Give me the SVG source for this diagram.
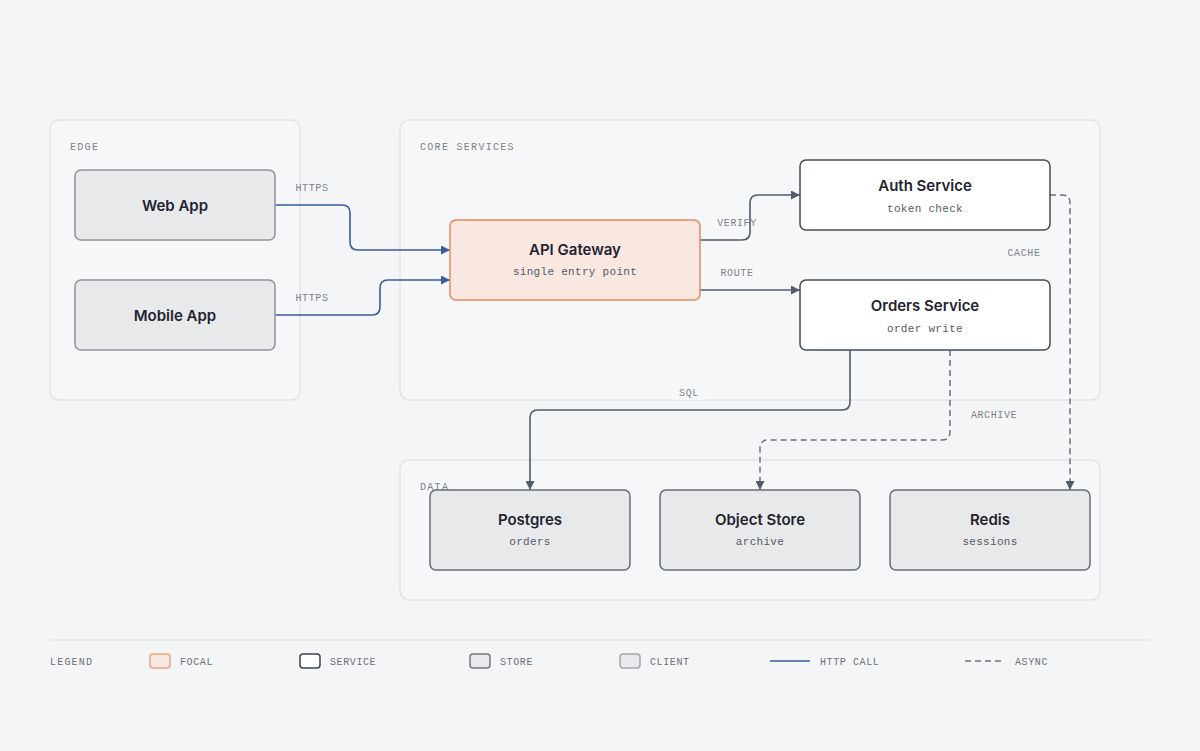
<svg xmlns="http://www.w3.org/2000/svg" width="1200" height="751" viewBox="0 0 1200 751">
<style>
.bg{fill:#f4f5f6}
.grp{fill:#f6f7f8;stroke:#e2e4e7;stroke-width:1.5}
.glabel{font-family:"Liberation Mono","DejaVu Sans Mono",monospace;font-size:10px;letter-spacing:1.3px;fill:#7b808a}
.client{fill:#e8e9eb;stroke:#8e939b;stroke-width:1.5}
.store{fill:#e8e9eb;stroke:#656c79;stroke-width:1.5}
.service{fill:#ffffff;stroke:#474c57;stroke-width:1.5}
.focal{fill:#f8e8e1;stroke:#e38a5c;stroke-width:1.5}
.title{font-family:Inter,"Liberation Sans",sans-serif;font-size:15px;font-weight:600;fill:#1f2430;text-anchor:middle}
.sub{font-family:"Liberation Mono","DejaVu Sans Mono",monospace;font-size:11px;letter-spacing:0.3px;fill:#555b66;text-anchor:middle}
.lbl{font-family:"Liberation Mono","DejaVu Sans Mono",monospace;font-size:10px;letter-spacing:0.6px;fill:#7d828c;text-anchor:middle}
.http{fill:none;stroke:#3a5ca3;stroke-width:1.6}
.call{fill:none;stroke:#535b6b;stroke-width:1.6}
.async{fill:none;stroke:#6b7280;stroke-width:1.5;stroke-dasharray:6 4}
.leg{font-family:"Liberation Mono","DejaVu Sans Mono",monospace;font-size:10px;letter-spacing:0.6px;fill:#6b707a}
</style>
<defs>
<marker id="ah-blue" viewBox="0 0 10 10" refX="10" refY="5" markerWidth="10" markerHeight="9" markerUnits="userSpaceOnUse" orient="auto">
<path d="M0,0 L10,5 L0,10 z" fill="#3a5ca3"/>
</marker>
<marker id="ah-gray" viewBox="0 0 10 10" refX="10" refY="5" markerWidth="10" markerHeight="9" markerUnits="userSpaceOnUse" orient="auto">
<path d="M0,0 L10,5 L0,10 z" fill="#535b6b"/>
</marker>
</defs>
<rect class="bg" x="0" y="0" width="1200" height="751"/>

<g id="group-edge">
<rect class="grp" x="50" y="120" width="250" height="280" rx="9"/>
<text class="glabel" x="70" y="150">EDGE</text>
</g>
<g id="group-core">
<rect class="grp" x="400" y="120" width="700" height="280" rx="9"/>
<text class="glabel" x="420" y="150">CORE SERVICES</text>
</g>
<g id="group-data">
<rect class="grp" x="400" y="460" width="700" height="140" rx="9"/>
<text class="glabel" x="420" y="490">DATA</text>
</g>

<g id="connectors">
<path class="http" d="M275,205 H342 Q350,205 350,213 V242 Q350,250 358,250 H450" marker-end="url(#ah-blue)"/>
<path class="http" d="M275,315 H372 Q380,315 380,307 V288 Q380,280 388,280 H450" marker-end="url(#ah-blue)"/>
<path class="call" d="M700,240 H742 Q750,240 750,232 V203 Q750,195 758,195 H800" marker-end="url(#ah-gray)"/>
<path class="call" d="M700,290 H800" marker-end="url(#ah-gray)"/>
<path class="call" d="M850,350 V402 Q850,410 842,410 H538 Q530,410 530,418 V490" marker-end="url(#ah-gray)"/>
<path class="async" d="M1050,195 H1062 Q1070,195 1070,203 V490" marker-end="url(#ah-gray)"/>
<path class="async" d="M950,350 V432 Q950,440 942,440 H768 Q760,440 760,448 V490" marker-end="url(#ah-gray)"/>
<text class="lbl" x="312" y="191">HTTPS</text>
<text class="lbl" x="312" y="301">HTTPS</text>
<text class="lbl" x="737" y="226">VERIFY</text>
<text class="lbl" x="737" y="276">ROUTE</text>
<text class="lbl" x="1024" y="256">CACHE</text>
<rect x="672" y="386" width="34" height="14" fill="#f6f7f8"/>
<text class="lbl" x="689" y="396">SQL</text>
<text class="lbl" x="994" y="418">ARCHIVE</text>
</g>

<g id="node-web">
<rect class="client" x="75" y="170" width="200" height="70" rx="6"/>
<text class="title" x="175" y="211">Web App</text>
</g>
<g id="node-mobile">
<rect class="client" x="75" y="280" width="200" height="70" rx="6"/>
<text class="title" x="175" y="321">Mobile App</text>
</g>
<g id="node-gateway">
<rect class="focal" x="450" y="220" width="250" height="80" rx="6"/>
<text class="title" x="575" y="255">API Gateway</text>
<text class="sub" x="575" y="275">single entry point</text>
</g>
<g id="node-auth">
<rect class="service" x="800" y="160" width="250" height="70" rx="6"/>
<text class="title" x="925" y="191">Auth Service</text>
<text class="sub" x="925" y="212">token check</text>
</g>
<g id="node-orders">
<rect class="service" x="800" y="280" width="250" height="70" rx="6"/>
<text class="title" x="925" y="311">Orders Service</text>
<text class="sub" x="925" y="332">order write</text>
</g>
<g id="node-postgres">
<rect class="store" x="430" y="490" width="200" height="80" rx="6"/>
<text class="title" x="530" y="525">Postgres</text>
<text class="sub" x="530" y="545">orders</text>
</g>
<g id="node-objectstore">
<rect class="store" x="660" y="490" width="200" height="80" rx="6"/>
<text class="title" x="760" y="525">Object Store</text>
<text class="sub" x="760" y="545">archive</text>
</g>
<g id="node-redis">
<rect class="store" x="890" y="490" width="200" height="80" rx="6"/>
<text class="title" x="990" y="525">Redis</text>
<text class="sub" x="990" y="545">sessions</text>
</g>

<g id="legend">
<line x1="50" y1="640" x2="1150" y2="640" stroke="#e4e6e9" stroke-width="1.5"/>
<text class="leg" x="50" y="665" style="letter-spacing:1.2px">LEGEND</text>
<rect x="150" y="654" width="20" height="14" rx="3" fill="#f8e8e1" stroke="#eba37c" stroke-width="1.5"/>
<text class="leg" x="180" y="665">FOCAL</text>
<rect x="300" y="654" width="20" height="14" rx="3" fill="#ffffff" stroke="#3d424c" stroke-width="1.5"/>
<text class="leg" x="330" y="665">SERVICE</text>
<rect x="470" y="654" width="20" height="14" rx="3" fill="#e8e9eb" stroke="#71767f" stroke-width="1.5"/>
<text class="leg" x="500" y="665">STORE</text>
<rect x="620" y="654" width="20" height="14" rx="3" fill="#e8e9eb" stroke="#a2a6ad" stroke-width="1.5"/>
<text class="leg" x="650" y="665">CLIENT</text>
<line x1="770" y1="661" x2="810" y2="661" stroke="#3a5ca3" stroke-width="1.6"/>
<text class="leg" x="820" y="665">HTTP CALL</text>
<line x1="965" y1="661" x2="1005" y2="661" stroke="#6b7280" stroke-width="1.5" stroke-dasharray="6 4"/>
<text class="leg" x="1015" y="665">ASYNC</text>
</g>
</svg>
